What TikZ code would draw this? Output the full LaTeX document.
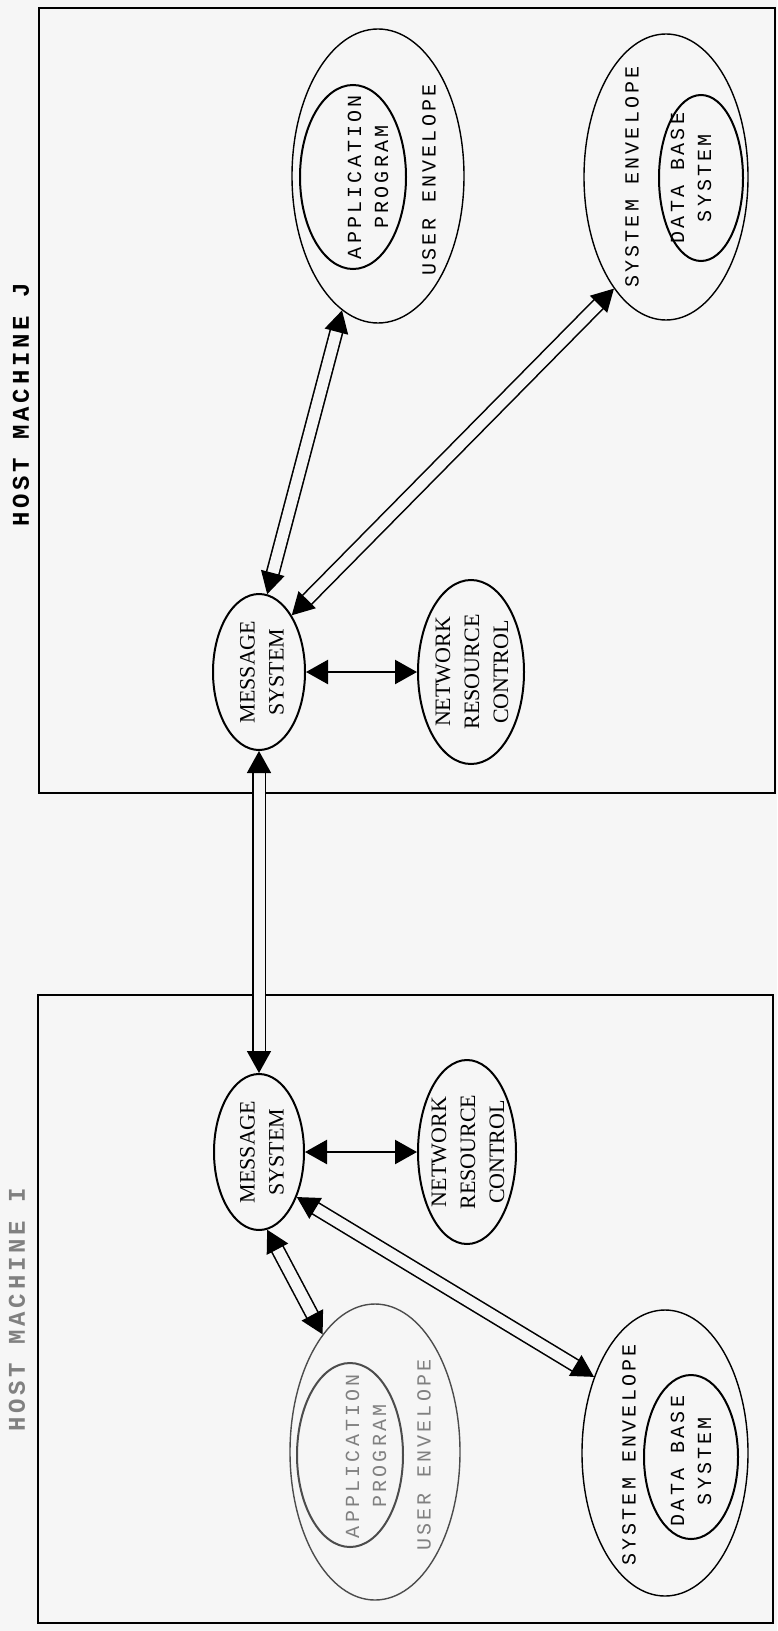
\documentclass[tikz,border=0pt]{standalone}
\usepackage{fontspec}
\setmainfont{Liberation Serif}
\newfontfamily\typer[LetterSpace=16]{Liberation Mono}
\newfontfamily\header[LetterSpace=16]{Liberation Mono}
\usetikzlibrary{arrows.meta, shapes.geometric}
\definecolor{paper}{gray}{0.965}

\begin{document}
\begin{tikzpicture} [x=0.5pt, y=-0.5pt, align=center,
	box/.style={line width=1.3pt},
	env/.style={ellipse, draw, line width=0.7pt, inner sep=0pt},
	core/.style={ellipse, draw, line width=1pt, inner sep=0pt},
	tw/.style={rotate=90, inner sep=0pt, font=\typer\fontsize{10}{13.5}\selectfont},
	rm/.style={rotate=90, inner sep=0pt, font=\fontsize{11}{14.5}\selectfont},
	head/.style={rotate=90, inner sep=0pt, font=\header\bfseries\fontsize{12}{14}\selectfont},
	fade/.style={text=black!50},
	pipe/.style={draw=black, double=paper, double distance=5.5pt, line width=0.8pt,
		{Triangle[length=11pt,width=12pt]}-{Triangle[length=11pt,width=12pt]}},
	wire/.style={line width=1.2pt, {Triangle[length=11pt,width=12pt]}-{Triangle[length=11pt,width=12pt]}}]

\fill[paper] (0,0) rectangle (777,1631);
\useasboundingbox (0,0) rectangle (777,1631);

\draw[box] (39,8) rectangle (775,793);
\draw[box] (38,995) rectangle (773,1623);

\path (21,405) node[head] (hostJ) {HOST MACHINE J}
	  (17,1310) node[head, fade] (hostI) {HOST MACHINE I}

	  (378,176) node[env, minimum width=86pt, minimum height=147pt] (userJ) {}
	  (353,177) node[core, minimum width=53pt, minimum height=92pt] (appJ) {}
	  (368,177) node[tw] (appJtext) {APPLICATION\\PROGRAM}
	  (429,180) node[tw] (userJtext) {USER ENVELOPE}
	  (666,177) node[env, minimum width=82pt, minimum height=143pt] (sysJ) {}
	  (701,178) node[core, minimum width=42pt, minimum height=83pt] (dbJ) {}
	  (691,178) node[tw] (dbJtext) {DATA BASE\\SYSTEM}
	  (632,177) node[tw] (sysJtext) {SYSTEM ENVELOPE}
	  (259,672) node[core, minimum width=46pt, minimum height=78pt] (msgJ) {}
	  (262,672) node[rm] (msgJtext) {MESSAGE\\SYSTEM}
	  (471,672) node[core, minimum width=53pt, minimum height=92pt] (nrcJ) {}
	  (472,672) node[rm] (nrcJtext) {NETWORK\\RESOURCE\\CONTROL}

	  (259,1152) node[core, minimum width=45pt, minimum height=78pt] (msgI) {}
	  (262,1152) node[rm] (msgItext) {MESSAGE\\SYSTEM}
	  (467,1152) node[core, minimum width=49pt, minimum height=92pt] (nrcI) {}
	  (468,1152) node[rm] (nrcItext) {NETWORK\\RESOURCE\\CONTROL}
	  (375,1452) node[env, draw=black!70, minimum width=85pt, minimum height=148pt] (userI) {}
	  (350,1455) node[core, draw=black!70, minimum width=53pt, minimum height=92pt] (appI) {}
	  (366,1456) node[tw, fade] (appItext) {APPLICATION\\PROGRAM}
	  (424,1455) node[tw, fade] (userItext) {USER ENVELOPE}
	  (665,1453) node[env, minimum width=83pt, minimum height=143pt] (sysI) {}
	  (691,1457) node[core, minimum width=47pt, minimum height=82pt] (dbI) {}
	  (691,1461) node[tw] (dbItext) {DATA BASE\\SYSTEM}
	  (629,1455) node[tw] (sysItext) {SYSTEM ENVELOPE};

\draw[pipe] (msgJ.84) to (userJ.255);
\draw[pipe] (msgJ.60) to (sysJ.245);
\draw[wire] (msgJ.east) to (nrcJ.west);
\draw[pipe] (msgJ.south) to (msgI.north);

\draw[wire] (msgI.east) to (nrcI.west);
\draw[pipe] (msgI.276) to (userI.114);
\draw[pipe] (msgI.310) to (sysI.133);

\end{tikzpicture}
\end{document}
